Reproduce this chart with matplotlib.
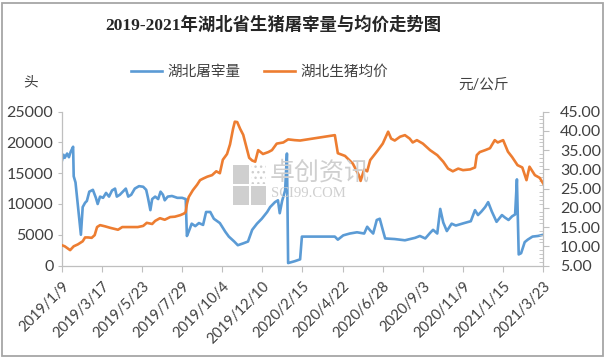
import numpy as np
import pandas as pd
import matplotlib
matplotlib.use("Agg")
from matplotlib import pyplot as plt
from matplotlib.patches import Rectangle
from matplotlib.ticker import MultipleLocator, FormatStrFormatter

plt.rcParams['font.family'] = ['Lato', 'Noto Sans CJK SC']

# 湖北屠宰量 (头)
SLAUGHTER_DATES = [
    "2019-01-09", "2019-01-12", "2019-01-14", "2019-01-18", "2019-01-21", "2019-01-24",
    "2019-01-28", "2019-01-29", "2019-02-01", "2019-02-10", "2019-02-13", "2019-02-17",
    "2019-02-20", "2019-02-24", "2019-03-02", "2019-03-07", "2019-03-10", "2019-03-14",
    "2019-03-19", "2019-03-24", "2019-03-29", "2019-04-03", "2019-04-08", "2019-04-11",
    "2019-04-16", "2019-04-21", "2019-04-26", "2019-04-30", "2019-05-05", "2019-05-11",
    "2019-05-18", "2019-05-25", "2019-05-30", "2019-06-02", "2019-06-06", "2019-06-09",
    "2019-06-14", "2019-06-19", "2019-06-23", "2019-06-27", "2019-06-30", "2019-07-05",
    "2019-07-12", "2019-07-21", "2019-07-29", "2019-08-04", "2019-08-06", "2019-08-09",
    "2019-08-14", "2019-08-20", "2019-08-26", "2019-09-02", "2019-09-07", "2019-09-14",
    "2019-09-20", "2019-09-30", "2019-10-09", "2019-10-15", "2019-10-24", "2019-10-30",
    "2019-11-08", "2019-11-16", "2019-11-23", "2019-12-01", "2019-12-09", "2019-12-18",
    "2019-12-23", "2019-12-31", "2020-01-05", "2020-01-08", "2020-01-12", "2020-01-17",
    "2020-01-20", "2020-01-22", "2020-02-02", "2020-02-11", "2020-02-14", "2020-04-09",
    "2020-04-14", "2020-04-23", "2020-05-04", "2020-05-16", "2020-05-28", "2020-06-02",
    "2020-06-07", "2020-06-12", "2020-06-18", "2020-06-23", "2020-06-28", "2020-07-02",
    "2020-07-18", "2020-08-04", "2020-08-21", "2020-08-29", "2020-09-07", "2020-09-15",
    "2020-09-20", "2020-09-27", "2020-10-02", "2020-10-07", "2020-10-13", "2020-10-21",
    "2020-10-28", "2020-11-04", "2020-11-11", "2020-11-22", "2020-11-29", "2020-12-04",
    "2020-12-10", "2020-12-16", "2020-12-21", "2020-12-27", "2021-01-04", "2021-01-13",
    "2021-01-18", "2021-01-24", "2021-01-30", "2021-02-04", "2021-02-07", "2021-02-10",
    "2021-02-14", "2021-02-20", "2021-02-25", "2021-03-05", "2021-03-14", "2021-03-23",
]
SLAUGHTER = [
    16900, 18000, 17500, 18200, 17600, 18500,
    19300, 14500, 13500, 5000, 9500, 10200,
    10500, 12000, 12300, 11000, 10000, 11200,
    11000, 11800, 11200, 12200, 12500, 11200,
    11500, 12000, 12500, 11200, 11500, 12500,
    12900, 12800, 12300, 11000, 9000, 10800,
    11200, 10800, 12000, 11500, 10600, 11200,
    11300, 11000, 11000, 10800, 4800, 5500,
    6800, 6400, 6900, 6600, 8700, 8700,
    7600, 6900, 5500, 4700, 3900, 3300,
    3600, 3900, 5800, 6800, 7600, 8700,
    9500, 10300, 10600, 8500, 10500, 12200,
    18200, 400, 700, 1000, 4700, 4700,
    4200, 4900, 5200, 5400, 5200, 6300,
    5700, 5200, 7400, 7600, 5800, 4400,
    4300, 4100, 4500, 4800, 4400, 5300,
    5800, 5200, 9200, 7000, 5600, 6800,
    6500, 6700, 6900, 7200, 9000, 8200,
    8800, 9500, 10300, 8800, 7100, 8200,
    7800, 7400, 8000, 8300, 14000, 1800,
    2000, 3800, 4200, 4700, 4800, 5000,
]

# 湖北生猪均价 (元/公斤)
PRICE_DATES = [
    "2019-01-09", "2019-01-14", "2019-01-23", "2019-01-29", "2019-02-05", "2019-02-08",
    "2019-02-13", "2019-02-17", "2019-02-22", "2019-02-28", "2019-03-05", "2019-03-09",
    "2019-03-14", "2019-03-22", "2019-03-31", "2019-04-13", "2019-04-20", "2019-05-03",
    "2019-05-16", "2019-05-25", "2019-05-31", "2019-06-09", "2019-06-14", "2019-06-22",
    "2019-06-30", "2019-07-09", "2019-07-17", "2019-07-26", "2019-08-01", "2019-08-04",
    "2019-08-06", "2019-08-09", "2019-08-16", "2019-08-23", "2019-08-28", "2019-09-02",
    "2019-09-09", "2019-09-17", "2019-09-24", "2019-09-30", "2019-10-05", "2019-10-12",
    "2019-10-17", "2019-10-22", "2019-10-25", "2019-10-29", "2019-11-03", "2019-11-08",
    "2019-11-13", "2019-11-18", "2019-11-23", "2019-11-28", "2019-12-03", "2019-12-11",
    "2019-12-20", "2019-12-26", "2020-01-03", "2020-01-14", "2020-01-22", "2020-02-02",
    "2020-02-11", "2020-04-09", "2020-04-14", "2020-04-26", "2020-05-09", "2020-05-19",
    "2020-05-22", "2020-05-28", "2020-06-02", "2020-06-07", "2020-06-15", "2020-06-20",
    "2020-06-28", "2020-07-07", "2020-07-12", "2020-07-18", "2020-07-27", "2020-08-04",
    "2020-08-12", "2020-08-17", "2020-08-24", "2020-09-03", "2020-09-15", "2020-09-27",
    "2020-10-07", "2020-10-15", "2020-10-23", "2020-11-01", "2020-11-09", "2020-11-21",
    "2020-11-29", "2020-12-02", "2020-12-07", "2020-12-16", "2020-12-24", "2021-01-01",
    "2021-01-06", "2021-01-15", "2021-01-23", "2021-01-30", "2021-02-08", "2021-02-16",
    "2021-02-23", "2021-02-28", "2021-03-09", "2021-03-17", "2021-03-23",
]
PRICE = [
    10.3, 10.0, 9.0, 10.0, 10.5, 10.8,
    11.3, 12.3, 12.3, 12.2, 12.9, 15.0,
    15.5, 15.2, 14.8, 14.3, 15.0, 15.0,
    15.0, 15.3, 16.1, 15.8, 16.6, 17.3,
    16.9, 17.6, 17.7, 18.1, 18.5, 18.9,
    21.0, 22.8, 24.6, 26.0, 27.2, 27.6,
    28.1, 28.5, 29.5, 29.0, 32.5, 34.0,
    36.5, 40.5, 42.4, 42.3, 40.5, 39.0,
    36.0, 33.0, 32.3, 32.0, 35.0, 34.0,
    34.5, 35.0, 36.7, 37.0, 37.8, 37.6,
    37.5, 38.9, 34.2, 33.5, 31.5, 28.5,
    27.0, 30.0, 29.5, 32.4, 34.0, 35.0,
    36.7, 39.8, 38.0, 37.5, 38.5, 38.9,
    38.0, 37.0, 37.6, 36.7, 35.0, 33.7,
    32.0, 30.2, 29.5, 30.2, 29.8, 30.0,
    30.5, 33.7, 34.5, 35.0, 35.5, 37.6,
    37.0, 37.6, 34.6, 33.2, 31.1, 30.5,
    27.2, 30.7, 28.5, 27.8, 26.3,
]

TICK_DATES = pd.date_range("2019-01-09", "2021-03-23", freq="67D")
TICK_LABELS = [f"{d.year}/{d.month}/{d.day}" for d in TICK_DATES]

BLUE = "#5b9bd5"
ORANGE = "#ed7d31"
AXIS_GRAY = "#bfbfbf"
TEXT_GRAY = "#404040"

fig = plt.figure(figsize=(6.07, 3.61), dpi=100)
ax = fig.add_axes([0.1017, 0.2645, 0.7933, 0.4261])
ax2 = ax.twinx()

# watermark
wm = "#cfcfcf"
for (x0, y0) in [(0.384, 0.490), (0.384, 0.432), (0.413, 0.432)]:
    fig.patches.append(Rectangle((x0, y0), 0.026, 0.052, transform=fig.transFigure,
                                 facecolor=wm, edgecolor="none", zorder=0))
fig.patches.append(Rectangle((0.413, 0.490), 0.026, 0.052, transform=fig.transFigure,
                             facecolor="none", edgecolor=wm, hatch="...", lw=0, zorder=0))
fig.text(0.444, 0.522, "卓创资讯", fontsize=18, color=wm, va="center", ha="left",
         family=["Noto Sans CJK SC"], zorder=0)
fig.text(0.446, 0.465, "SCI99.COM", fontsize=10.5, color=wm, va="center", ha="left",
         family=["Liberation Serif"], zorder=0)
ax.patch.set_visible(False)

ax.plot(pd.to_datetime(SLAUGHTER_DATES), SLAUGHTER, color=BLUE, lw=1.9, label="湖北屠宰量")
ax2.plot(pd.to_datetime(PRICE_DATES), PRICE, color=ORANGE, lw=1.9, label="湖北生猪均价")

ax.set_xlim(TICK_DATES[0], TICK_DATES[-1])
ax.set_xticks(TICK_DATES)
ax.set_xticklabels(TICK_LABELS, rotation=45, ha="right", rotation_mode="anchor")

ax.set_ylim(0, 25000)
ax.set_yticks(range(0, 25001, 5000))
ax2.set_ylim(5, 45)
ax2.yaxis.set_major_locator(MultipleLocator(5))
ax2.yaxis.set_minor_locator(MultipleLocator(1))
ax2.yaxis.set_major_formatter(FormatStrFormatter("%.2f"))

for a in (ax, ax2):
    a.spines["top"].set_visible(False)
    for s in a.spines.values():
        s.set_color(AXIS_GRAY)
        s.set_linewidth(0.9)
ax.spines["right"].set_visible(False)
ax2.spines["left"].set_visible(False)
ax2.spines["bottom"].set_visible(False)

ax.tick_params(axis="x", length=4, color=AXIS_GRAY, labelsize=10.5, labelcolor=TEXT_GRAY, pad=6)
ax.tick_params(axis="y", length=3, color=AXIS_GRAY, labelsize=11.5, labelcolor=TEXT_GRAY, pad=3)
ax2.tick_params(axis="y", which="major", length=4, color=AXIS_GRAY, labelsize=11.5,
                labelcolor=TEXT_GRAY, pad=8)
ax2.tick_params(axis="y", which="minor", length=3, color=AXIS_GRAY, direction="in")

fig.text(273 / 607, 1 - 25 / 361, "2019-2021年湖北省生猪屠宰量与均价走势图", fontsize=12.5,
         fontweight="bold", color="#262626", ha="center", va="center",
         family=["Liberation Serif", "Noto Sans CJK SC"])
fig.text(30 / 607, 1 - 82 / 361, "头", fontsize=10.5, color=TEXT_GRAY, ha="center", va="center")
fig.text(484 / 607, 1 - 85 / 361, "元/公斤", fontsize=10.5, color=TEXT_GRAY, ha="center", va="center")

h1, l1 = ax.get_legend_handles_labels()
h2, l2 = ax2.get_legend_handles_labels()
fig.legend(h1 + h2, l1 + l2, loc="center", bbox_to_anchor=(260 / 607, 1 - 72 / 361), ncol=2,
           frameon=False, fontsize=10.5, labelcolor=TEXT_GRAY, handlelength=2.1,
           handletextpad=0.4, columnspacing=1.6)

fig.patches.append(Rectangle((0.004, 0.014), 0.99, 0.978, transform=fig.transFigure,
                             fill=False, edgecolor="#a6a6a6", lw=1.3))

fig.savefig("out.png", dpi=100)
